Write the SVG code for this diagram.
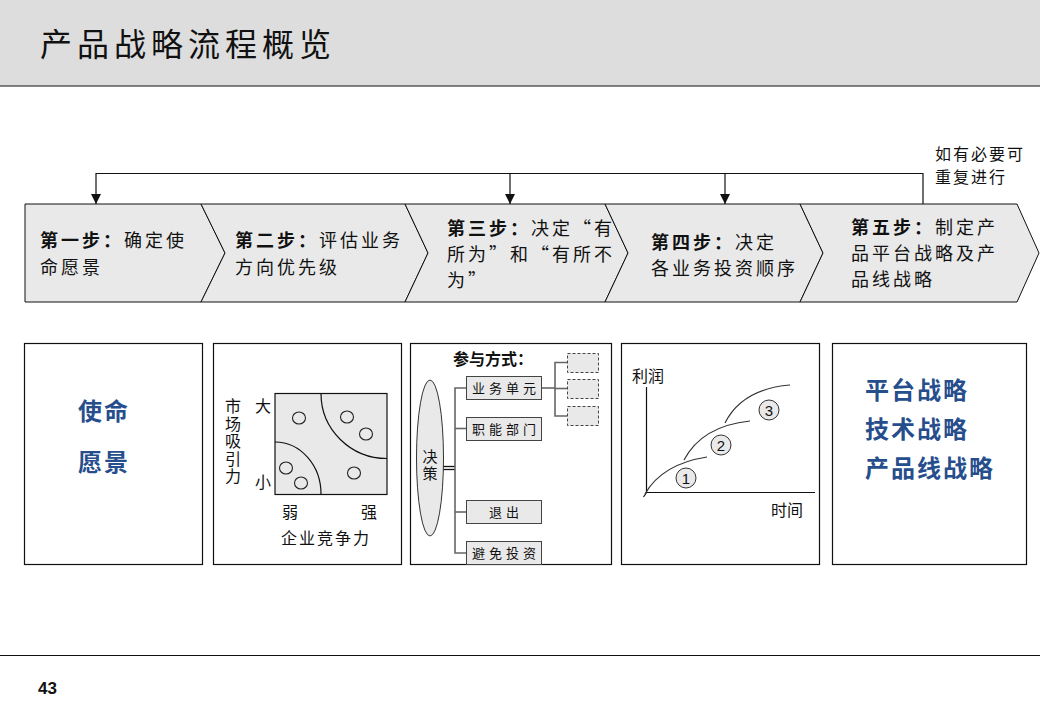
<svg xmlns="http://www.w3.org/2000/svg" width="1040" height="720" viewBox="0 0 1040 720">
<defs>
<style>
.cjk{font-family:"Noto Sans CJK SC","Noto Sans",sans-serif;}
.step{font-size:18px;letter-spacing:3px;fill:#111;}
.b{font-weight:bold;}
.chev{fill:#E9E9E9;stroke:#111;stroke-width:1;}
.box{fill:#fff;stroke:#111;stroke-width:1.2;}
.blue{fill:#264D8C;font-weight:bold;font-size:24px;letter-spacing:2px;}
.sm{fill:#E9E9E9;stroke:#444;stroke-width:1;}
.dash{fill:#E9E9E9;stroke:#444;stroke-width:1;stroke-dasharray:3 2;}
.ln{fill:none;stroke:#111;stroke-width:1.2;}
.gl{fill:none;stroke:#666;stroke-width:1.6;}
.cv{fill:none;stroke:#333;stroke-width:1.2;}
.dot{fill:none;stroke:#222;stroke-width:1.1;}
.lbl{font-size:16px;fill:#111;}
.bx{font-size:13px;letter-spacing:4px;fill:#111;}
.vert{writing-mode:vertical-rl;text-orientation:upright;}
</style>
<marker id="arr" viewBox="0 0 10 10" refX="10" refY="5" markerWidth="10" markerHeight="10" markerUnits="userSpaceOnUse" orient="auto">
<path d="M0,0 L10,5 L0,10 Z" fill="#111"/>
</marker>
</defs>
<rect width="1040" height="720" fill="#fff"/>

<g id="header">
<rect x="0" y="0" width="1040" height="86" fill="#DDDDDD"/>
<line x1="0" y1="86" x2="1040" y2="86" stroke="#111" stroke-width="1.2"/>
<text class="cjk" x="40" y="56" font-size="32" letter-spacing="5" fill="#111">产品战略流程概览</text>
</g>

<g id="connectors">
<polyline class="ln" points="923,204 923,173.5 96,173.5 96,204" marker-end="url(#arr)"/>
<line class="ln" x1="510" y1="173.5" x2="510" y2="204" marker-end="url(#arr)"/>
<line class="ln" x1="725" y1="173.5" x2="725" y2="204" marker-end="url(#arr)"/>
</g>
<g id="repeat-note">
<text class="cjk" x="935" y="160" font-size="16" letter-spacing="2" fill="#111">如有必要可</text>
<text class="cjk" x="935" y="183" font-size="16" letter-spacing="2" fill="#111">重复进行</text>
</g>

<g id="step1">
<polygon class="chev" points="25,204 201,204 225,253 201,302 25,302"/>
<text class="cjk step" x="40" y="247"><tspan class="b">第一步：</tspan>确定使</text>
<text class="cjk step" x="40" y="274">命愿景</text>
</g>
<g id="step2">
<polygon class="chev" points="201,204 405,204 428,253 405,302 201,302 225,253"/>
<text class="cjk step" x="235" y="247"><tspan class="b">第二步：</tspan>评估业务</text>
<text class="cjk step" x="235" y="274">方向优先级</text>
</g>
<g id="step3">
<polygon class="chev" points="405,204 605,204 628,253 605,302 405,302 428,253"/>
<text class="cjk step" x="447" y="235"><tspan class="b">第三步：</tspan>决定“有</text>
<text class="cjk step" x="447" y="261">所为”和“有所不</text>
<text class="cjk step" x="447" y="287">为”</text>
</g>
<g id="step4">
<polygon class="chev" points="605,204 800,204 823,253 800,302 605,302 628,253"/>
<text class="cjk step" x="651" y="249"><tspan class="b">第四步：</tspan>决定</text>
<text class="cjk step" x="651" y="275">各业务投资顺序</text>
</g>
<g id="step5">
<polygon class="chev" points="800,204 1017,204 1039,253 1017,302 800,302 823,253"/>
<text class="cjk step" x="851" y="234"><tspan class="b">第五步：</tspan>制定产</text>
<text class="cjk step" x="851" y="260">品平台战略及产</text>
<text class="cjk step" x="851" y="286">品线战略</text>
</g>

<g id="panel1">
<rect class="box" x="24.5" y="343.5" width="178" height="221"/>
<text class="cjk blue" x="104" y="420" text-anchor="middle">使命</text>
<text class="cjk blue" x="104" y="471" text-anchor="middle">愿景</text>
</g>

<g id="panel2">
<rect class="box" x="213.5" y="343.5" width="188" height="221"/>
<rect x="275" y="393.5" width="112" height="101" fill="#E9E9E9" stroke="#111" stroke-width="1.2"/>
<path class="ln" d="M321,393.5 A66,65 0 0 0 387,458.5"/>
<path class="ln" d="M275,442 A46,52 0 0 1 321,494.5"/>
<ellipse class="dot" cx="299" cy="418" rx="6.5" ry="6"/>
<ellipse class="dot" cx="347" cy="417" rx="6.5" ry="6"/>
<ellipse class="dot" cx="366" cy="434" rx="6.5" ry="6"/>
<ellipse class="dot" cx="286" cy="468" rx="6.5" ry="6"/>
<ellipse class="dot" cx="301" cy="483" rx="6.5" ry="6"/>
<ellipse class="dot" cx="354" cy="473" rx="6.5" ry="6"/>
<text class="cjk vert" x="233" y="398" font-size="16" letter-spacing="1.6" fill="#111">市场吸引力</text>
<g class="cjk" font-size="16" fill="#111" text-anchor="middle">
<text x="263" y="412">大</text>
<text x="263" y="488">小</text>
<text x="290" y="518">弱</text>
<text x="369" y="518">强</text>
</g>
<text class="cjk" x="326" y="544" font-size="16" letter-spacing="2" fill="#111" text-anchor="middle">企业竞争力</text>
</g>

<g id="panel3">
<rect class="box" x="410.5" y="343.5" width="201" height="221"/>
<text class="cjk" x="453" y="365" font-size="16" font-weight="bold" fill="#111">参与方式：</text>
<ellipse cx="430" cy="458" rx="13.5" ry="78" fill="#E9E9E9" stroke="#333" stroke-width="1"/>
<text class="cjk vert" x="430" y="449" font-size="15" letter-spacing="2" fill="#111">决策</text>
<line x1="443.5" y1="466.5" x2="455" y2="466.5" stroke="#111" stroke-width="1.3"/>
<line x1="443.5" y1="469.5" x2="455" y2="469.5" stroke="#111" stroke-width="1.3"/>
<polyline class="gl" points="467,388 455,388 455,553 467,553"/>
<line class="gl" x1="455" y1="428.5" x2="467" y2="428.5"/>
<line class="gl" x1="455" y1="512" x2="467" y2="512"/>
<polyline class="gl" points="542,388 555,388"/>
<polyline class="gl" points="567,362.5 555,362.5 555,416 567,416"/>
<line class="gl" x1="555" y1="388.5" x2="567" y2="388.5"/>
<rect class="sm" x="466.5" y="376.5" width="75" height="23"/>
<rect class="sm" x="466.5" y="417.5" width="75" height="23"/>
<rect class="sm" x="466.5" y="500.5" width="75" height="23"/>
<rect class="sm" x="466.5" y="541.5" width="75" height="23"/>
<text class="cjk bx" x="506" y="393" text-anchor="middle">业务单元</text>
<text class="cjk bx" x="506" y="434" text-anchor="middle">职能部门</text>
<text class="cjk bx" x="506" y="517" text-anchor="middle">退出</text>
<text class="cjk bx" x="506" y="558" text-anchor="middle">避免投资</text>
<rect class="dash" x="567.5" y="353.5" width="31" height="19"/>
<rect class="dash" x="567.5" y="379.5" width="31" height="19"/>
<rect class="dash" x="567.5" y="406.5" width="31" height="19"/>
</g>

<g id="panel4">
<rect class="box" x="621.5" y="343.5" width="198" height="221"/>
<polyline class="ln" points="646.5,387 646.5,492.5 815,492.5"/>
<line class="ln" x1="646.5" y1="492.5" x2="643.5" y2="497"/>
<path class="cv" d="M645,494 Q662,464 707,457"/>
<path class="cv" d="M684,460 Q702,426 750,421"/>
<path class="cv" d="M725,423 Q742,389 790,385"/>
<g font-size="15" fill="#111" text-anchor="middle" font-family="'Liberation Sans',sans-serif">
<circle cx="686" cy="478" r="10" fill="#E9E9E9" stroke="#333" stroke-width="1"/>
<text x="686" y="483.5">1</text>
<circle cx="721" cy="445" r="10" fill="#E9E9E9" stroke="#333" stroke-width="1"/>
<text x="721" y="450.5">2</text>
<circle cx="769" cy="410" r="10" fill="#E9E9E9" stroke="#333" stroke-width="1"/>
<text x="769" y="415.5">3</text>
</g>
<text class="cjk lbl" x="632" y="382">利润</text>
<text class="cjk lbl" x="771" y="516">时间</text>
</g>

<g id="panel5">
<rect class="box" x="832.5" y="343.5" width="194" height="221"/>
<text class="cjk blue" x="865" y="399">平台战略</text>
<text class="cjk blue" x="865" y="438">技术战略</text>
<text class="cjk blue" x="865" y="477">产品线战略</text>
</g>

<g id="footer">
<line x1="0" y1="655.5" x2="1040" y2="655.5" stroke="#111" stroke-width="1.2"/>
<text x="38" y="694" font-family="'Liberation Sans',Arial,sans-serif" font-size="17" font-weight="bold" fill="#111">43</text>
</g>
</svg>
